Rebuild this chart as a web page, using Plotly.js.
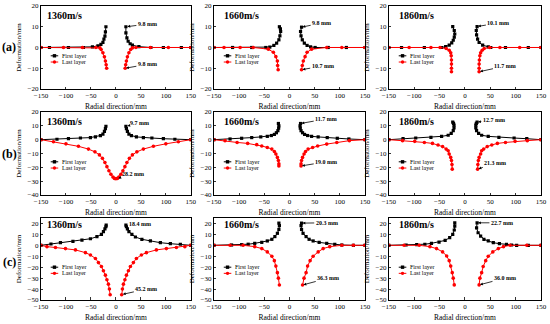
<!DOCTYPE html>
<html>
<head>
<meta charset="utf-8">
<script src="https://cdn.plot.ly/plotly-3.0.1.min.js"></script>
<style>html,body{margin:0;padding:0;background:#fff;}#chart{width:550px;height:324px;}</style>
</head>
<body>
<div id="chart"></div>
<script>
// ---------- labels ----------
const speeds = ['1360m/s', '1660m/s', '1860m/s'];
const rowLabels = ['(a)', '(b)', '(c)'];
const seriesNames = ['First layer', 'Last layer'];
const xTitle = 'Radial direction/mm';
const yTitle = 'Deformation/mm';

// ---------- row (a) ----------
const a1FirstX = [-150,-133,-95,-65,-47,-36,-30,-26,-24,-22,-21,-20, null, 20,20,22,24.5,28.5,33,46,70,95,131,150];
const a1FirstY = [0,0,0,0,0.3,0.8,1.5,2.5,4,5.5,7.5,10, null, 10,7,4.6,3,1.8,1.1,0.4,0,0,0,0];
const a1LastX  = [-150,-105,-67,-40,-32,-29.5,-26,-23,-21,-19.5,-18.5, null, 18.5,19.5,21,23,26,29.5,33,40,69,105,150];
const a1LastY  = [0,0,0,0,-0.2,-1,-2.5,-4.5,-6.5,-8.3,-10, null, -10,-8.3,-6.5,-4.5,-2.5,-1,-0.2,0,0,0,0];
const a1Notes  = ['9.8 mm', '9.8 mm'];

const a2FirstX = [-150,-113,-75,-47,-39,-31,-25.5,-21,-19,-17.5,-18,-20, null, 24,22,23,25.5,29.5,35,42,51,77,113,150];
const a2FirstY = [0,0,0,0,0.2,1,2.1,3.7,5.6,7.7,9,10, null, 9.8,7.7,5.6,3.7,2.1,1,0.3,0,0,0,0];
const a2LastX  = [-150,-130,-98,-72,-42,-32,-27,-24,-23.5,-22.5, null, 24,25.5,27.5,31,35,44,74,104,150];
const a2LastY  = [0,0,0,0,-0.8,-2.3,-4.4,-6.5,-8.7,-10.7, null, -10.7,-8.7,-6.5,-4.4,-2.3,-0.8,0,0,0];
const a2Notes  = ['9.8 mm', '10.7 mm'];

const a3FirstX = [-150,-125,-80,-46,-38,-31,-26,-23,-21,-20,-21,-24, null, 24,22.4,23,25,28,35,46,51,80,125,150];
const a3FirstY = [0,0,0,0,0.4,1.1,2.2,3.5,5,6.5,8.2,10.1, null, 10.1,8.2,6.1,4,2.4,1.1,0.3,0,0,0,0];
const a3LastX  = [-150,-110,-67,-49,-37,-31,-28,-27,-26.5,-26.5,-26.5,-26.5, null, 28,28,28,28.5,29.5,31,34,38,49,69,108,150];
const a3LastY  = [0,0,0,0,-0.5,-1.3,-2.5,-4,-6,-8,-10,-11.7, null, -11.7,-10,-8,-6,-4,-2.5,-1.3,-0.5,0,0,0,0];
const a3Notes  = ['10.1 mm', '11.7 mm'];

// ---------- row (b) ----------
const b1FirstX = [-150,-118,-95,-71,-51,-41,-31,-26,-23,-21,-20, null, 20,21,23,26,31,41,55,72,95,118,150];
const b1FirstY = [0,0.3,0.7,1.2,1.5,2,3,4,6,8,9.7, null, 9.7,8,6,4,3,2,1.5,1.2,0.7,0.3,0];
const b1LastX  = [-150,-125,-100,-75,-55,-42,-33,-27,-22,-18,-14,-10,-6,-3,0,3,6,10,14,18,22,27,33,42,55,75,100,125,150];
const b1LastY  = [0,-1.5,-3,-4.8,-6.8,-8.8,-11,-13.5,-16.5,-19.5,-22.5,-25,-27,-28,-28.2,-28,-27,-25,-22.5,-19.5,-16.5,-13.5,-11,-8.8,-6.8,-4.8,-3,-1.5,0];
const b1Notes  = ['9.7 mm', '28.2 mm'];

const b2FirstX = [-150,-118,-95,-75,-57,-44,-36,-30,-26,-23,-21.5,-21,-22, null, 22,21,21.5,23,26,30,36,44,57,75,95,118,150];
const b2FirstY = [0,0.5,1,1.5,2,2.4,3,3.8,5,6.5,8.3,10,11.7, null, 11.7,10,8.3,6.5,5,3.8,3,2.4,2,1.5,1,0.5,0];
const b2LastX  = [-150,-128,-104,-83,-65,-55,-44,-35,-30,-27,-24,-22,-21,-21, null, 23,23,24,26,29,32,37,46,56,74,94,119,150];
const b2LastY  = [0,-0.7,-2,-2.7,-3.6,-4.6,-5.6,-6.8,-8.5,-10.4,-12.8,-15,-17.5,-19, null, -19,-17.5,-15,-12.8,-10.4,-8.5,-6.8,-5.6,-4.6,-3.2,-2,-0.7,0];
const b2Notes  = ['11.7 mm', '19.0 mm'];

const b3FirstX = [-150,-122,-97,-67,-46,-33,-27,-23,-21.5,-21.5,-22.5,-24, null, 24,22.5,21.5,21.5,23,27,33,46,67,97,122,150];
const b3FirstY = [0,0.7,1.2,1.7,2.4,3.2,4.6,6.5,8.5,10.5,11.8,12.7, null, 12.7,11.8,10.5,8.5,6.5,4.6,3.2,2.4,1.7,1.2,0.7,0];
const b3LastX  = [-150,-123,-99,-80,-64,-53,-44,-37,-33,-31,-28,-26.5,-25.5,-25, null, 25,25.5,26.5,28,31,33,37,44,53,64,80,99,123,150];
const b3LastY  = [0,-0.7,-1.2,-2,-2.7,-3.8,-5,-6.8,-8,-10.4,-12.8,-15,-18,-21.3, null, -21.3,-18,-15,-12.8,-10.4,-8,-6.8,-5,-3.8,-2.7,-2,-1.2,-0.7,0];
const b3Notes  = ['12.7 mm', '21.3 mm'];

// ---------- row (c) ----------
const c1FirstX = [-150,-130,-111,-86,-68,-51,-38,-29,-25,-22,-20,-19.5, null, 20,21,23,26,32,39,52,69,89,109,129,150];
const c1FirstY = [0,1.2,2.4,3.6,4.8,6,7.9,10,12.5,15,17,18.4, null, 18.4,17,15,12.5,10,7.6,5.5,4,2.4,1.5,1,0];
const c1LastX  = [-150,-138,-121,-101,-81,-61,-51,-41,-35,-29,-25,-21,-18,-15,-13,-11.5, null, 11.5,13,15,18,21,25,29,35,41,51,61,81,101,121,138,150];
const c1LastY  = [0,-1.2,-2,-3,-4.2,-6.7,-8.8,-12,-15.8,-19.4,-23.3,-27.3,-31.5,-35.5,-40,-45.2, null, -45.2,-40,-35.5,-31.5,-27.3,-23.3,-19.4,-15.8,-12,-8.8,-6.7,-4.2,-3,-2,-1.2,0];
const c1Notes  = ['18.4 mm', '45.2 mm'];

const c2FirstX = [-150,-115,-95,-82,-69,-55,-44,-35,-29,-24,-21,-20,-21, null, 24,23,24,27,33,39,47,59,74,90,104,127,150];
const c2FirstY = [0,0.3,0.6,1,1.8,2.7,4,5.5,8,11,14.5,18,20.3, null, 20.3,18,14.5,11,8,5.5,4,2.7,1.8,0.9,0.3,0,0];
const c2LastX  = [-150,-118,-92,-69,-55,-44,-35,-30,-27,-24,-22,-20, null, 26,29,33,36,41,47,57,67,80,104,127,150];
const c2LastY  = [0,0,0,-1.2,-3,-6,-10,-14,-19,-25,-30,-36.3, null, -36.3,-30,-25,-19,-14,-10,-6,-3,-1.2,0,0,0];
const c2Notes  = ['20.3 mm', '36.3 mm'];

const c3FirstX = [-150,-116,-95,-79,-66,-51,-39,-30,-24,-21,-20,-20, null, 24,23,26,31,37.5,46,56,68,82,92,102,125,150];
const c3FirstY = [0,0.3,0.6,1,1.8,3,4.5,7,10,14,17.6,20.6, null, 20.6,16,11.5,8.5,5.5,4,2.4,1.5,0.9,0.3,0,0,0];
const c3LastX  = [-150,-120,-90,-69,-56,-44,-36,-31,-28,-25,-23,-21, null, 28,29.6,33,36,41,46,55,66,76,89,122,150];
const c3LastY  = [0,0,0,-1.2,-3,-6,-9.7,-14,-19,-25,-30,-36.2, null, -36.2,-30,-25,-19.4,-14,-10,-6,-3,-1.2,0,0,0];
const c3Notes  = ['22.7 mm', '36.0 mm'];

// ---------- assemble ----------
const panels = [
  {fx:a1FirstX, fy:a1FirstY, lx:a1LastX, ly:a1LastY, notes:a1Notes},
  {fx:a2FirstX, fy:a2FirstY, lx:a2LastX, ly:a2LastY, notes:a2Notes},
  {fx:a3FirstX, fy:a3FirstY, lx:a3LastX, ly:a3LastY, notes:a3Notes},
  {fx:b1FirstX, fy:b1FirstY, lx:b1LastX, ly:b1LastY, notes:b1Notes},
  {fx:b2FirstX, fy:b2FirstY, lx:b2LastX, ly:b2LastY, notes:b2Notes},
  {fx:b3FirstX, fy:b3FirstY, lx:b3LastX, ly:b3LastY, notes:b3Notes},
  {fx:c1FirstX, fy:c1FirstY, lx:c1LastX, ly:c1LastY, notes:c1Notes},
  {fx:c2FirstX, fy:c2FirstY, lx:c2LastX, ly:c2LastY, notes:c2Notes},
  {fx:c3FirstX, fy:c3FirstY, lx:c3LastX, ly:c3LastY, notes:c3Notes}
];

// annotation placement: [pointX, pointY, textX, textY] for upper and lower notes
const notePos = [
  [[21,10,63,11.3],[18.5,-10,63,-8.1]],
  [[24,9.8,64,11.8],[24,-10.7,66,-8.9]],
  [[24,10.1,66,11.8],[28,-11.7,80,-8.9]],
  [[21,9.7,47,12.2],[3,-28.1,35,-24.5]],
  [[22,11.7,73,15],[23,-19,73,-16]],
  [[24,12.7,57,14.5],[25,-21.3,60,-17]],
  [[20.5,18.4,48,19.2],[12,-45,61,-40]],
  [[24,20.3,74,20.6],[26,-36.3,77,-30]],
  [[24,20.6,73,20.6],[28,-36.2,79,-30]]
];

const FONT = 'Liberation Serif, Times New Roman, serif';
const xDomains = [[0.0745,0.347],[0.389,0.6636],[0.707,0.9836]];
const yDomains = [[0.7253,0.9815],[0.3981,0.6543],[0.0741,0.3272]];
const yRanges = [[-20,20],[-40,20],[-50,25]];
const labelX = [0.03, 0.055, 0.055];
const labelY = [0.89, 0.89, 0.915];

const traces = [];
const layout = {
  width: 550, height: 324,
  margin: {l:0, r:0, t:0, b:0},
  paper_bgcolor: '#fff', plot_bgcolor: '#fff',
  showlegend: false,
  font: {family: FONT, color: '#000'},
  annotations: [], shapes: []
};

panels.forEach((p, i) => {
  const r = Math.floor(i / 3), c = i % 3, n = i + 1;
  const xa = n === 1 ? 'x' : 'x' + n, ya = n === 1 ? 'y' : 'y' + n;
  const xk = n === 1 ? 'xaxis' : 'xaxis' + n, yk = n === 1 ? 'yaxis' : 'yaxis' + n;
  traces.push({
    x: p.fx, y: p.fy, xaxis: xa, yaxis: ya, name: seriesNames[0], type: 'scatter',
    mode: 'lines+markers', connectgaps: false,
    line: {color: '#000', width: 1},
    marker: {symbol: 'square', size: 3.2, color: '#000'}
  });
  traces.push({
    x: p.lx, y: p.ly, xaxis: xa, yaxis: ya, name: seriesNames[1], type: 'scatter',
    mode: 'lines+markers', connectgaps: false,
    line: {color: '#ff0000', width: 1},
    marker: {symbol: 'circle', size: 3.6, color: '#ff0000'}
  });
  const axCommon = {
    showline: true, mirror: true, linecolor: '#000', linewidth: 1,
    ticks: 'inside', ticklen: 2.5, tickwidth: 0.8, tickcolor: '#000',
    showgrid: false, zeroline: false,
    tickfont: {family: FONT, size: 7, color: '#000'}
  };
  layout[xk] = Object.assign({}, axCommon, {
    domain: xDomains[c], range: [-150,150], dtick: 50, tick0: 0, anchor: ya,
    title: {text: xTitle, font: {family: FONT, size: 7.5}, standoff: 4}
  });
  layout[yk] = Object.assign({}, axCommon, {
    domain: yDomains[r], range: yRanges[r], dtick: 10, tick0: 0, anchor: xa,
    title: {text: yTitle, font: {family: FONT, size: 7}, standoff: 5}
  });
  // speed label
  layout.annotations.push({
    xref: xa + ' domain', yref: ya + ' domain', x: labelX[c], y: labelY[r],
    xanchor: 'left', yanchor: 'middle', showarrow: false, text: speeds[c],
    font: {family: FONT, size: 10, weight: 'bold', color: '#000'}
  });
  // arrow notes
  p.notes.forEach((t, k) => {
    const q = notePos[i][k];
    layout.annotations.push({
      xref: xa, yref: ya, axref: xa, ayref: ya,
      x: q[0], y: q[1], ax: q[2], ay: q[3],
      text: t, showarrow: true, arrowhead: 2, arrowsize: 0.7, arrowwidth: 0.8,
      arrowcolor: '#000', standoff: 1, startstandoff: 0,
      font: {family: FONT, size: 6, weight: 'bold', color: '#000'}
    });
  });
  // manual legend
  const ly = [0.40, 0.325];
  const cols = ['#000', '#ff0000'];
  [0, 1].forEach(k => {
    layout.shapes.push({
      type: 'line', xref: xa + ' domain', yref: ya + ' domain',
      x0: 0.065, x1: 0.115, y0: ly[k], y1: ly[k],
      line: {color: cols[k], width: 1}
    });
    layout.shapes.push({
      type: k === 0 ? 'rect' : 'circle', xref: xa + ' domain', yref: ya + ' domain',
      xsizemode: 'pixel', ysizemode: 'pixel', xanchor: 0.09, yanchor: ly[k],
      x0: -1.7, x1: 1.7, y0: -1.7, y1: 1.7,
      fillcolor: cols[k], line: {color: cols[k], width: 0}
    });
    layout.annotations.push({
      xref: xa + ' domain', yref: ya + ' domain', x: 0.125, y: ly[k],
      xanchor: 'left', yanchor: 'middle', showarrow: false, text: seriesNames[k],
      font: {family: FONT, size: 6, color: '#000'}
    });
  });
});

rowLabels.forEach((t, r) => {
  layout.annotations.push({
    xref: 'paper', yref: 'paper', x: 9/550, y: [0.855, 0.525, 0.191][r],
    xanchor: 'center', yanchor: 'middle', showarrow: false, text: t,
    font: {family: FONT, size: 12, weight: 'bold', color: '#000'}
  });
});

Plotly.newPlot('chart', traces, layout, {staticPlot: true, displayModeBar: false});
</script>
</body>
</html>
